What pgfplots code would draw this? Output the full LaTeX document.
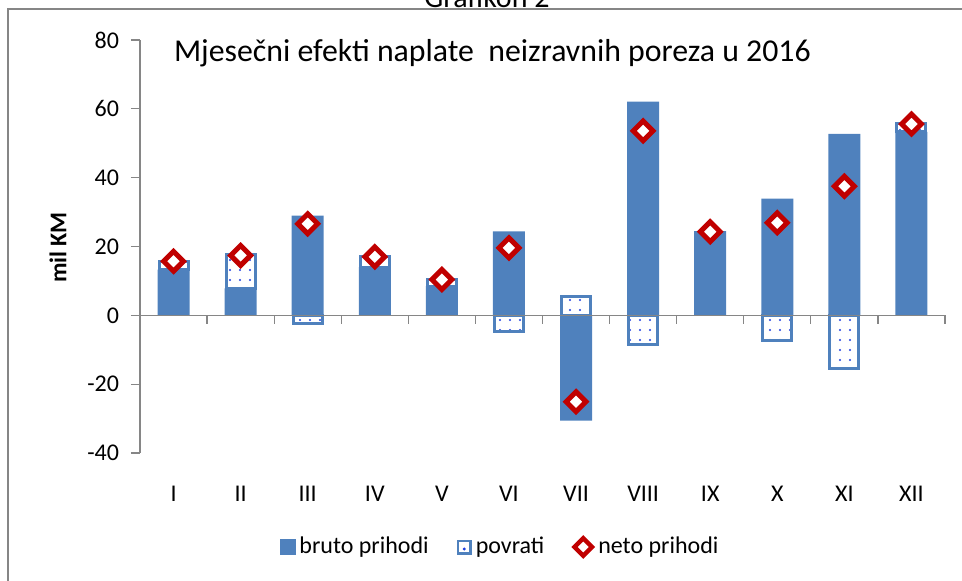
\documentclass[border=0pt]{standalone}
\usepackage{pgfplots}
\pgfplotsset{compat=1.18}
\usepackage{fontspec}
\setmainfont{Carlito}
\usetikzlibrary{patterns.meta}
\definecolor{barblue}{HTML}{4F81BD}
\definecolor{netored}{HTML}{C00000}
\definecolor{axgray}{HTML}{868686}
\definecolor{dotblue}{HTML}{1F3FE0}
\pgfplotsset{
  common/.style={
    at={(70pt,63.5pt)}, anchor=south west,
    scale only axis, width=402.5pt, height=206.5pt,
    xmin=-0.5, xmax=11.5, ymin=-40, ymax=80,
    clip=false,
  },
  povstyle/.style={fill=white, draw=barblue, line width=1.5pt, bar width=14.5pt,
    postaction={pattern={Dots[distance=5pt,radius=0.55pt]}, pattern color=dotblue}},
}
\begin{document}
\begin{tikzpicture}
\useasboundingbox (0,0) rectangle (481pt,290pt);
\clip (0,0) rectangle (481pt,290pt);
\node[anchor=base, font=\fontsize{15}{18}\selectfont] at (243.5pt,286.3pt) {Grafikon 2};
\draw[axgray, line width=1.2pt] (4pt,-5pt) -- (4pt,285.5pt) -- (490pt,285.5pt);
% base axis: bruto + povrati of the same sign (stacked)
\begin{axis}[common,
 ybar stacked, bar width=16pt,
 axis y line*=left, axis x line*=bottom,
 x axis line style={draw=none},
 y axis line style={draw=axgray, line width=0.6pt},
 ytick={-40,-20,0,20,40,60,80},
 yticklabels={-40,-20,0,20,40,60,80},
 tick align=outside,
 ytick style={draw=axgray, line width=0.6pt},
 major tick length=4.5pt,
 xtick={0,...,11},
 xticklabels={I,II,III,IV,V,VI,VII,VIII,IX,X,XI,XII},
 xtick style={draw=none},
 tick label style={font=\fontsize{12}{14}\selectfont, text=black},
 xticklabel style={yshift=-8.5pt},
 yticklabel style={xshift=-2.5pt},
 ylabel={mil KM},
 every axis y label/.style={at={(rel axis cs:-0.102,0.4976)}, rotate=90, anchor=center, font=\bfseries\fontsize{12}{14}\selectfont},
]
\addplot[fill=barblue, draw=none]
  coordinates {(0,13.3) (1,7.8) (2,29.0) (3,14.0) (4,8.5) (5,24.4) (6,-30.6) (7,62.1) (8,24.5) (9,33.9) (10,52.7) (11,53.3)};
\addplot[povstyle]
  coordinates {(0,2.4) (1,9.8) (2,0) (3,3.2) (4,2.0) (5,0) (6,0) (7,0) (8,0) (9,0) (10,0) (11,2.3)};
\end{axis}
% overlay axis: povrati of the opposite sign (from zero) and neto
\begin{axis}[common,
 unbounded coords=discard,
 hide axis,
 ybar, bar shift=0pt,
 legend style={at={(rel axis cs:0.4485,-0.2276)}, anchor=center, draw=none, fill=none,
   legend columns=3, font=\fontsize{12}{14}\selectfont,
   /tikz/every even column/.append style={column sep=12pt}},
]
\addlegendimage{legend image code/.code={\fill[barblue] (0pt,-3.75pt) rectangle (7.5pt,3.75pt);}}
\addlegendentry{bruto prihodi}
\addlegendimage{legend image code/.code={\draw[barblue, line width=1.2pt, fill=white] (0.6pt,-3.15pt) rectangle (6.9pt,3.15pt); \fill[dotblue] (3.75pt,-1pt) circle (0.5pt);}}
\addlegendentry{povrati}
\addplot[forget plot, povstyle]
  coordinates {(0,nan) (1,nan) (2,-2.4) (3,nan) (4,nan) (5,-4.7) (6,5.6) (7,-8.5) (8,nan) (9,-7.2) (10,-15.5) (11,nan)};
\draw[axgray, line width=0.6pt] (axis cs:-0.5,0) -- (axis cs:11.5,0);
\pgfplotsinvokeforeach{0.5,1.5,2.5,3.5,4.5,5.5,6.5,7.5,8.5,9.5,10.5,11.5}{
  \draw[axgray, line width=0.6pt] (axis cs:#1,0) -- ++(0pt,-4.5pt);
}
\addplot[only marks, mark=square*, mark size=3.5pt,
  mark options={rotate=45, fill=white, draw=netored, line width=2.5pt},
  legend image code/.code={\draw[netored, line width=2.2pt, fill=white] (3.75pt,-4.4pt) -- (8.15pt,0pt) -- (3.75pt,4.4pt) -- (-0.65pt,0pt) -- cycle;}]
  coordinates {(0,15.7) (1,17.4) (2,26.6) (3,17.0) (4,10.4) (5,19.6) (6,-25.1) (7,53.6) (8,24.3) (9,26.9) (10,37.5) (11,55.6)};
\addlegendentry{neto prihodi}
\node[anchor=base west, font=\fontsize{15.9}{18}\selectfont] at (rel axis cs:0.0335,0.949) {Mjesečni efekti naplate\ \ neizravnih poreza u 2016};
\end{axis}
\end{tikzpicture}
\end{document}
